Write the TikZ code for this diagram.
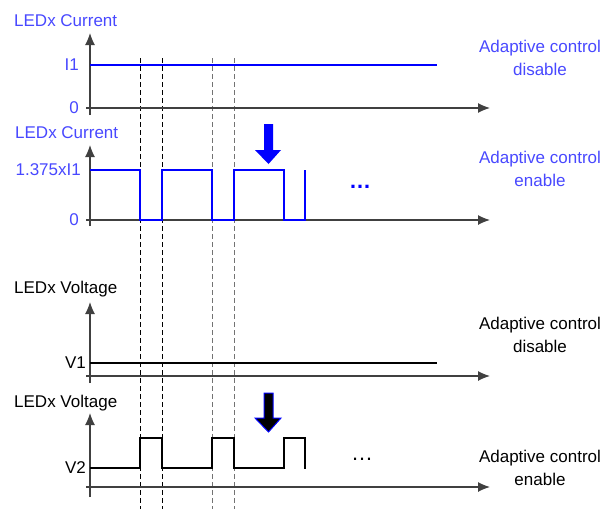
\documentclass[tikz,border=0pt]{standalone}
\usepackage{fontspec}
\setmainfont{Liberation Sans}
\usepackage{xcolor}
\usetikzlibrary{arrows.meta}
\definecolor{txtblue}{RGB}{72,72,255}
\definecolor{axgray}{RGB}{64,64,64}
\tikzset{>={Latex[length=12pt,width=10pt]}}
\tikzset{axis/.style={axgray,line width=1.2pt,->},
  wave/.style={line width=1.6pt},
  lbl/.style={inner sep=0pt},
  note/.style={inner sep=0pt,align=center},
  ell/.style={inner sep=0pt,font=\fontsize{22}{22}\selectfont}}

\begin{document}
\begin{tikzpicture}[x=1pt,y=-1pt,font=\fontsize{17}{22.5}\selectfont]
  \useasboundingbox (0,0) rectangle (614,509);
    \foreach \xx/\cc in {140/black,162/black,212/black!55,234/black!55}
      \draw[\cc,dash pattern=on 5pt off 3pt,line width=0.85pt] (\xx,58)--(\xx,509);

    \draw[axis](90,115)--(90,33);
    \draw[axis](86,108)--(490,108);
    \draw[axis](90,226)--(90,145);
    \draw[axis](86,220)--(490,220);
    \draw[axis](90,383)--(90,302);
    \draw[axis](86,376)--(490,376);
    \draw[axis](90,497)--(90,413);
    \draw[axis](86,487)--(490,487);

    \draw[wave,blue](90,65)--(437,65);
    \draw[wave,blue](90,170)--(140,170)--(140,220)--(162,220)--(162,170)--(212,170)--(212,220)--(234,220)--(234,170)--(284,170)--(284,220)--(305,220)--(305,170);
    \draw[wave,black](90,363)--(437,363);
    \draw[wave,black](90,468)--(140,468)--(140,438)--(162,438)--(162,468)--(212,468)--(212,438)--(234,438)--(234,468)--(284,468)--(284,438)--(305,438)--(305,469);

    \fill[blue](264,124)--(273,124)--(273,150)--(281,150)--(268.5,164)--(255,150)--(264,150)--cycle;
    \filldraw[draw=blue,fill=black,line width=1pt](264,393)--(273,393)--(273,418)--(281,418)--(268.5,432)--(255,418)--(264,418)--cycle;

    \node[lbl,txtblue,anchor=west] (curA) at (14,21) {LEDx Current};
    \node[lbl,txtblue,anchor=east] (iOne) at (79,65) {I1};
    \node[lbl,txtblue,anchor=east] (zeroA) at (79,108) {0};
    \node[note,txtblue] (offA) at (540,58) {Adaptive control\\disable};

    \node[lbl,txtblue,anchor=west] (curB) at (15,133) {LEDx Current};
    \node[lbl,txtblue,anchor=east] (iHigh) at (81,170) {1.375xI1};
    \node[lbl,txtblue,anchor=east] (zeroB) at (79,220) {0};
    \node[ell,blue,font=\fontsize{22}{22}\selectfont\bfseries] (dotsB) at (360,187) {…};
    \node[note,txtblue] (onB) at (540,169) {Adaptive control\\enable};

    \node[lbl,anchor=west] (voltC) at (14,289) {LEDx Voltage};
    \node[lbl,anchor=east] (vOne) at (86,363) {V1};
    \node[note] (offC) at (540,335) {Adaptive control\\disable};

    \node[lbl,anchor=west] (voltD) at (14,403) {LEDx Voltage};
    \node[lbl,anchor=east] (vTwo) at (86,468) {V2};
    \node[ell] (dotsD) at (362,459) {…};
    \node[note] (onD) at (540,468) {Adaptive control\\enable};
\end{tikzpicture}
\end{document}
